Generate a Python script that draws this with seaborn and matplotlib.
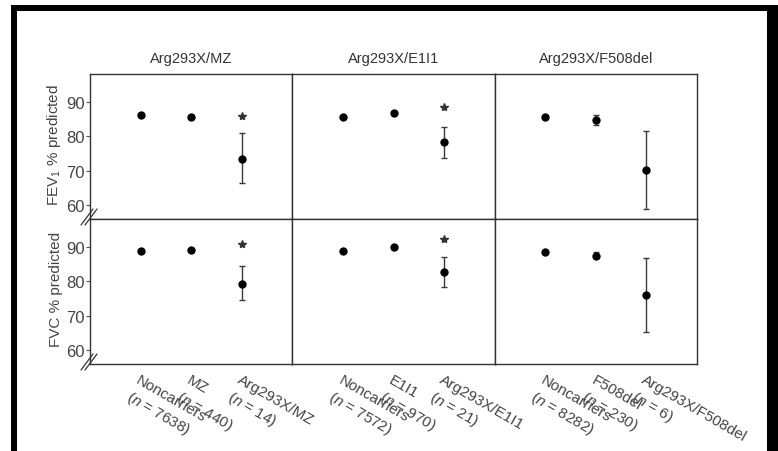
import numpy as np
import pandas as pd
import seaborn as sns
import matplotlib
matplotlib.use("Agg")
import matplotlib.pyplot as plt
from matplotlib.patches import Rectangle
from matplotlib.lines import Line2D

# ---------------- data ----------------
panels = ["Arg293X/MZ", "Arg293X/E1I1", "Arg293X/F508del"]
measures = ["FEV1", "FVC"]
ylabels = ["FEV$_1$ % predicted", "FVC % predicted"]

cats_mz = ["Noncarriers", "MZ", "Arg293X/MZ"]
n_mz = [7638, 440, 14]
cats_e1 = ["Noncarriers", "E1I1", "Arg293X/E1I1"]
n_e1 = [7572, 970, 21]
cats_f5 = ["Noncarriers", "F508del", "Arg293X/F508del"]
n_f5 = [8282, 230, 6]

fev1_mz_mean = [86.1, 85.6, 73.5]
fev1_mz_lo = [85.8, 85.0, 66.5]
fev1_mz_hi = [86.4, 86.2, 80.8]
fev1_e1_mean = [85.6, 86.8, 78.2]
fev1_e1_lo = [85.3, 86.3, 73.7]
fev1_e1_hi = [85.9, 87.3, 82.7]
fev1_f5_mean = [85.5, 84.7, 70.1]
fev1_f5_lo = [85.2, 83.1, 59.0]
fev1_f5_hi = [85.8, 86.1, 81.6]

fvc_mz_mean = [88.6, 88.9, 79.3]
fvc_mz_lo = [88.3, 88.4, 74.4]
fvc_mz_hi = [88.9, 89.4, 84.4]
fvc_e1_mean = [88.8, 89.8, 82.7]
fvc_e1_lo = [88.5, 89.4, 78.4]
fvc_e1_hi = [89.1, 90.2, 87.1]
fvc_f5_mean = [88.5, 87.4, 76.0]
fvc_f5_lo = [88.2, 86.6, 65.4]
fvc_f5_hi = [88.8, 88.3, 86.7]

# significance stars (value where the star sits above the Arg293X group; None = no star)
star_fev1 = [85.8, 88.3, None]
star_fvc = [90.8, 92.2, None]

yticks = [60, 70, 80, 90]

# ---------------- long table ----------------
cats = {panels[0]: (cats_mz, n_mz), panels[1]: (cats_e1, n_e1), panels[2]: (cats_f5, n_f5)}
vals = {
    ("FEV1", panels[0]): (fev1_mz_mean, fev1_mz_lo, fev1_mz_hi),
    ("FEV1", panels[1]): (fev1_e1_mean, fev1_e1_lo, fev1_e1_hi),
    ("FEV1", panels[2]): (fev1_f5_mean, fev1_f5_lo, fev1_f5_hi),
    ("FVC", panels[0]): (fvc_mz_mean, fvc_mz_lo, fvc_mz_hi),
    ("FVC", panels[1]): (fvc_e1_mean, fvc_e1_lo, fvc_e1_hi),
    ("FVC", panels[2]): (fvc_f5_mean, fvc_f5_lo, fvc_f5_hi),
}
stars = {"FEV1": star_fev1, "FVC": star_fvc}
rows = []
for m in measures:
    for p in panels:
        mean, lo, hi = vals[(m, p)]
        for i, c in enumerate(cats[p][0]):
            rows.append(dict(measure=m, panel=p, group=c, pos=i,
                             mean=mean[i], lo=lo[i], hi=hi[i]))
df = pd.DataFrame(rows)

# ---------------- style ----------------
sns.set_theme(style="white")
plt.rcParams["font.family"] = ["Liberation Sans", "DejaVu Sans"]
plt.rcParams["mathtext.fontset"] = "custom"
plt.rcParams["mathtext.rm"] = "Liberation Sans"
plt.rcParams["mathtext.it"] = "Liberation Sans:italic"

W, H = 778, 452
g = sns.FacetGrid(df, row="measure", col="panel", row_order=measures,
                  col_order=panels, sharex=False, sharey=True, height=2, aspect=1.4)


def draw(data, **kw):
    ax = plt.gca()
    ax.errorbar(data["pos"], data["mean"],
                yerr=[data["mean"] - data["lo"], data["hi"] - data["mean"]],
                fmt="none", ecolor="#3a3a3a", elinewidth=1.0, capsize=2.2,
                capthick=1.0, zorder=2)
    sns.scatterplot(data=data, x="pos", y="mean", color="black", s=36,
                    edgecolor="black", linewidth=0, zorder=3, ax=ax)


g.map_dataframe(draw)

fig = g.figure
fig.set_size_inches(W / 100, H / 100)
L, R, T, B = 90, 697, 75, 365
fig.subplots_adjust(left=L / W, right=R / W, top=1 - T / H, bottom=1 - B / H,
                    wspace=0, hspace=0)

axw = (R - L) / 3
axh = (B - T) / 2
spine_col = "#333333"
for r, m in enumerate(measures):
    for c, p in enumerate(panels):
        ax = g.axes[r, c]
        ax.set_xlim(-1, 3)
        ax.set_ylim(56, 98)
        ax.set_title("")
        ax.set_xlabel("")
        ax.set_ylabel("")
        for s in ax.spines.values():
            s.set_visible(True)
            s.set_color(spine_col)
            s.set_linewidth(1.0)
        ax.set_yticks(yticks)
        ax.set_xticks([0, 1, 2])
        if c == 0:
            ax.tick_params(axis="y", left=True, length=3, width=0.8,
                           color="#555555", labelsize=12, labelcolor="#444444", pad=1)
            ax.set_ylabel(ylabels[r], fontsize=11, color="#444444")
            ax.yaxis.set_label_coords(-(L - 63) / axw, 0.52)
            # axis-break marks
            for off in (-2.0, 2.0):
                x0, y0 = -7 + off, -6
                x1, y1 = 5 + off, 10
                ax.add_line(Line2D([x0 / axw, x1 / axw], [y0 / axh, y1 / axh],
                                   transform=ax.transAxes, color="#333333",
                                   lw=0.9, clip_on=False))
        else:
            ax.tick_params(axis="y", left=False, labelleft=False)
        if r == 1:
            labs = [f"{cname}\n($n$ = {nn})" for cname, nn in zip(*cats[p])]
            ax.set_xticklabels(labs, rotation=-30, ha="left", va="top",
                               rotation_mode="anchor", fontsize=11,
                               color="#444444", linespacing=1.3)
            ax.tick_params(axis="x", bottom=False, length=0, pad=6)
        else:
            ax.tick_params(axis="x", bottom=False, labelbottom=False)
        if r == 0:
            ax.set_title(p, fontsize=10.5, color="#333333", pad=9)
        sv = stars[m][c]
        if sv is not None:
            ax.plot([2], [sv], marker="*", color="#333333", markersize=6,
                    linestyle="none", zorder=3)

# outer black frame
fig.add_artist(Rectangle((11 / W, 0), 6 / W, (H - 6) / H,
                         transform=fig.transFigure, color="black", lw=0))
fig.add_artist(Rectangle((11 / W, (H - 12) / H), (W - 11) / W, 6 / H,
                         transform=fig.transFigure, color="black", lw=0))
fig.add_artist(Rectangle((767 / W, 0), 11 / W, (H - 6) / H,
                         transform=fig.transFigure, color="black", lw=0))

fig.savefig("out.png", dpi=100)
